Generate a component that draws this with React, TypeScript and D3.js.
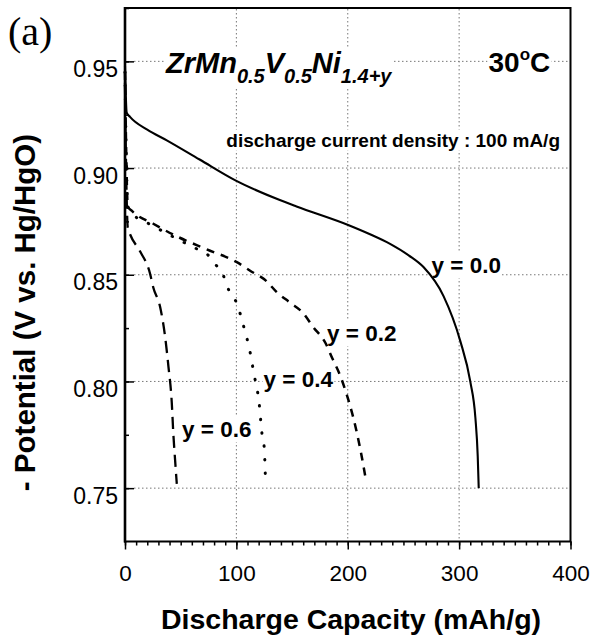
import { useEffect, useRef } from 'react'
import * as d3 from 'd3'

// capacity (mAh/g) and potential (V), one pair per y
const capY00 = [0, 1.5, 4.5, 20, 37.5, 67, 100, 139, 154, 202, 220, 238, 255, 268, 286, 301, 310, 314.6, 316.7, 317.6]
const potY00 = [0.948, 0.926, 0.924, 0.918, 0.913, 0.904, 0.894, 0.885, 0.882, 0.873, 0.869, 0.8645, 0.859, 0.8536, 0.84, 0.819, 0.8, 0.783, 0.765, 0.75]

const capY02 = [0, 1, 2.5, 6, 25, 46.5, 73, 100, 112, 127, 136, 148, 160, 169, 180, 186, 193, 199, 205, 211, 216.6]
const potY02 = [0.945, 0.91, 0.882, 0.88, 0.874, 0.868, 0.862, 0.856, 0.852, 0.847, 0.842, 0.837, 0.832, 0.8255, 0.818, 0.811, 0.803, 0.794, 0.783, 0.769, 0.753]

const capY04 = [0, 1, 2.5, 6, 25, 46, 65, 73, 81, 88, 93, 100, 108, 111, 116, 120.4, 123, 125, 126]
const potY04 = [0.945, 0.91, 0.882, 0.879, 0.873, 0.867, 0.862, 0.86, 0.855, 0.85, 0.843, 0.837, 0.823, 0.817, 0.803, 0.79, 0.7755, 0.769, 0.756]

const capY06 = [0, 1, 2.5, 4.5, 13.5, 22.5, 25.4, 31.5, 36, 39, 42, 43.4, 45, 46.5]
const potY06 = [0.94, 0.9, 0.872, 0.869, 0.861, 0.8505, 0.844, 0.835, 0.821, 0.807, 0.79, 0.7755, 0.763, 0.752]

const xTicks = [0, 100, 200, 300, 400]
const yTicks = [0.75, 0.8, 0.85, 0.9, 0.95]

const series = [
  { label: 'y = 0.0', cap: capY00, pot: potY00, dash: null, w: 2.1, lx: 431.5, ly: 273 },
  { label: 'y = 0.2', cap: capY02, pot: potY02, dash: '8,7', w: 2.5, lx: 327, ly: 341 },
  { label: 'y = 0.4', cap: capY04, pot: potY04, dash: '0.5,13', w: 3, lx: 263.5, ly: 387 },
  { label: 'y = 0.6', cap: capY06, pot: potY06, dash: '12,7', w: 2.3, lx: 182, ly: 437 },
]

const FONT = '"Liberation Sans", Arial, sans-serif'

export default function App() {
  const ref = useRef<SVGSVGElement>(null)

  useEffect(() => {
    const svg = d3.select(ref.current)
    svg.selectAll('*').remove()

    const x = d3.scaleLinear().domain([0, 400]).range([125, 570.5])
    const y = d3.scaleLinear().domain([0.725, 0.975]).range([541.5, 8])

    // white box behind a text node, like the original
    const backWhite = (t: any) => {
      const b = t.node().getBBox()
      svg.insert('rect', () => t.node())
        .attr('x', b.x - 1).attr('y', b.y)
        .attr('width', b.width + 2).attr('height', b.height)
        .attr('fill', '#fff')
    }

    // grid
    svg.append('g')
      .selectAll('line')
      .data(xTicks.slice(1, -1))
      .join('line')
      .attr('x1', d => x(d)).attr('x2', d => x(d))
      .attr('y1', 9).attr('y2', 540)
      .attr('stroke', '#777').attr('stroke-dasharray', '1.5,2.5')
    svg.append('g')
      .selectAll('line')
      .data(yTicks)
      .join('line')
      .attr('x1', 134).attr('x2', 569)
      .attr('y1', d => y(d)).attr('y2', d => y(d))
      .attr('stroke', '#777').attr('stroke-dasharray', '1.5,2.5')

    // annotations
    const title = svg.append('text')
      .attr('x', 166).attr('y', 73)
      .style('font-family', FONT).style('font-weight', 'bold').style('font-style', 'italic')
      .style('font-size', '29px')
    const parts: [string, boolean][] = [['ZrMn', false], ['0.5', true], ['V', false], ['0.5', true], ['Ni', false], ['1.4+y', true]]
    parts.forEach(([s, sub]) => {
      title.append('tspan')
        .attr('y', sub ? 83 : 73)
        .style('font-size', sub ? '20px' : '29px')
        .text(s)
    })
    backWhite(title)

    const temp = svg.append('text')
      .attr('x', 488.5).attr('y', 72)
      .style('font-family', FONT).style('font-weight', 'bold').style('font-size', '28px')
    temp.append('tspan').text('30')
    temp.append('tspan').attr('y', 60).style('font-size', '17px').text('o')
    temp.append('tspan').attr('y', 72).text('C')
    backWhite(temp)

    const note = svg.append('text')
      .attr('x', 560).attr('y', 146.5)
      .attr('text-anchor', 'end')
      .style('font-family', FONT).style('font-weight', 'bold').style('font-size', '19px')
      .text('discharge current density : 100 mA/g')
    backWhite(note)

    series.forEach(s => {
      const t = svg.append('text')
        .attr('x', s.lx).attr('y', s.ly)
        .style('font-family', FONT).style('font-weight', 'bold').style('font-size', '22.5px')
        .text(s.label)
      backWhite(t)
    })

    // curves
    const line = d3.line<number>()
      .x(d => x(d))
      .curve(d3.curveMonotoneX)
    series.forEach(s => {
      line.y((_, i) => y(s.pot[i]))
      svg.append('path')
        .attr('d', line(s.cap))
        .attr('fill', 'none')
        .attr('stroke', '#000')
        .attr('stroke-width', s.w)
        .attr('stroke-linecap', s.label === 'y = 0.4' ? 'round' : 'butt')
        .attr('stroke-dasharray', s.dash)
    })

    // x axis, ticks outward
    svg.append('g')
      .attr('transform', 'translate(0,541.5)')
      .call(d3.axisBottom(x).tickValues(d3.range(0, 401, 10)).tickSize(4).tickFormat(() => ''))
      .call(g => g.select('.domain').remove())
      .selectAll('line').attr('stroke-width', 1.5)
    svg.append('g')
      .attr('transform', 'translate(0,541.5)')
      .call(d3.axisBottom(x).tickValues(xTicks).tickSize(8).tickPadding(16))
      .call(g => g.select('.domain').remove())
      .call(g => g.selectAll('line').attr('stroke-width', 1.5))
      .selectAll('text')
      .style('font-family', FONT).style('font-size', '22.5px').style('fill', '#000')

    // y axis, ticks inward
    svg.append('g')
      .attr('transform', 'translate(125,0)')
      .call(d3.axisRight(y).tickValues(d3.range(0.75, 0.976, 0.025)).tickSize(4).tickFormat(() => ''))
      .call(g => g.select('.domain').remove())
      .selectAll('line').attr('stroke-width', 1.5)
    svg.append('g')
      .attr('transform', 'translate(125,0)')
      .call(d3.axisRight(y).tickValues(yTicks).tickSize(9).tickFormat(() => ''))
      .call(g => g.select('.domain').remove())
      .selectAll('line').attr('stroke-width', 1.5)
    svg.append('g')
      .selectAll('text')
      .data(yTicks)
      .join('text')
      .attr('x', 118).attr('y', d => y(d) + 15.5)
      .attr('text-anchor', 'end')
      .style('font-family', FONT).style('font-size', '23px')
      .text(d => d3.format('.2f')(d))

    // frame
    svg.append('rect')
      .attr('x', 125).attr('y', 8)
      .attr('width', 445.5).attr('height', 533.5)
      .attr('fill', 'none').attr('stroke', '#000').attr('stroke-width', 2)
    svg.append('line')
      .attr('x1', 125).attr('x2', 125).attr('y1', 7).attr('y2', 542.5)
      .attr('stroke', '#000').attr('stroke-width', 2.6)

    // axis titles
    svg.append('text')
      .attr('x', 351).attr('y', 629)
      .attr('text-anchor', 'middle')
      .style('font-family', FONT).style('font-weight', 'bold').style('font-size', '28.5px')
      .text('Discharge Capacity (mAh/g)')
    svg.append('text')
      .attr('transform', 'translate(35,312.5) rotate(-90)')
      .attr('text-anchor', 'middle')
      .style('font-family', FONT).style('font-weight', 'bold').style('font-size', '29.5px')
      .text('- Potential (V vs. Hg/HgO)')

    svg.append('text')
      .attr('x', 8).attr('y', 45)
      .style('font-family', '"Liberation Serif", "Times New Roman", serif').style('font-size', '40px')
      .text('(a)')
  }, [])

  return (
    <div style={{ position: 'absolute', left: 0, top: 0 }}>
      <svg ref={ref} width={591} height={637} style={{ display: 'block', background: '#fff' }} />
    </div>
  )
}
